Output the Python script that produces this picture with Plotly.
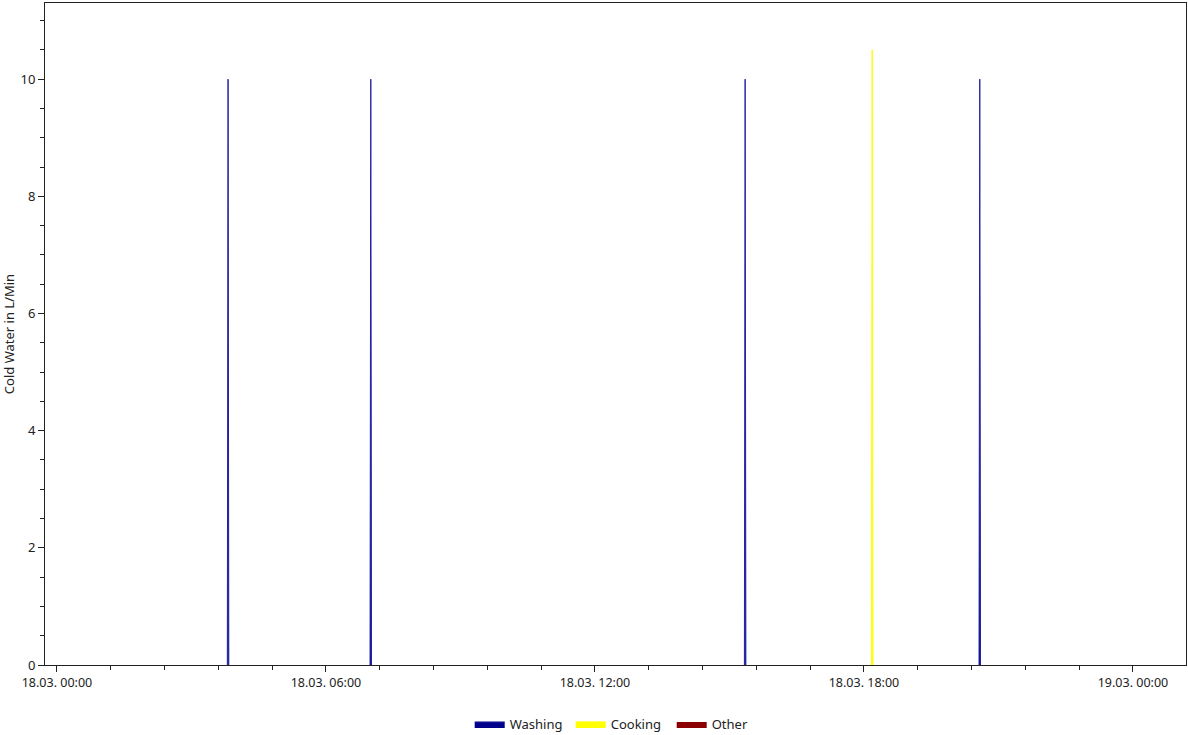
import plotly.graph_objects as go

# Data (times of events and peak flow values, L/Min); None separates events
washing_times = ["2024-03-18 03:48", "2024-03-18 03:49", "2024-03-18 03:50", None,
                 "2024-03-18 06:59", "2024-03-18 07:00", "2024-03-18 07:01", None,
                 "2024-03-18 15:20", "2024-03-18 15:21", "2024-03-18 15:22", None,
                 "2024-03-18 20:34", "2024-03-18 20:35", "2024-03-18 20:36"]
washing_values = [0, 10, 0, None, 0, 10, 0, None, 0, 10, 0, None, 0, 10, 0]

cooking_times = ["2024-03-18 18:10", "2024-03-18 18:11", "2024-03-18 18:12"]
cooking_values = [0, 10.5, 0]

other_times = ["2024-03-18 00:00"]
other_values = [0]

x_range = ["2024-03-17 23:44", "2024-03-19 01:11"]
y_range = [0, 11.3]

font_family = "Noto Sans, Open Sans, DejaVu Sans, sans-serif"

fig = go.Figure()
fig.add_trace(go.Scatter(x=washing_times, y=washing_values, name="Washing",
                         mode="lines", fill="tozeroy", connectgaps=False,
                         line=dict(color="#2323a3", width=1),
                         fillcolor="#00008B"))
fig.add_trace(go.Scatter(x=cooking_times, y=cooking_values, name="Cooking",
                         mode="lines", fill="tozeroy",
                         line=dict(color="#FFFF00", width=1),
                         fillcolor="#FFFF00"))
fig.add_trace(go.Scatter(x=other_times, y=other_values, name="Other",
                         mode="lines", fill="tozeroy",
                         line=dict(color="#8B0000", width=0),
                         fillcolor="#8B0000"))

fig.update_layout(
    width=1188, height=735,
    margin=dict(l=45, r=2, t=3, b=70),
    paper_bgcolor="white", plot_bgcolor="white",
    font=dict(family=font_family, size=12, color="#222222"),
    showlegend=True,
    legend=dict(orientation="h", x=0.505, xanchor="center",
                yref="container", y=0.015, yanchor="middle",
                font=dict(size=13), itemwidth=30, traceorder="normal",
                entrywidth=56, entrywidthmode="pixels"),
    xaxis=dict(
        type="date", range=x_range, automargin=False,
        tick0="2024-03-18 00:00", dtick=6 * 3600 * 1000,
        tickformat="%d.%m. %H:%M",
        ticks="outside", ticklen=6, tickcolor="#222", tickwidth=1,
        showline=True, linecolor="#222", linewidth=1, mirror=True,
        showgrid=False, zeroline=False,
        tickfont=dict(size=12.5),
        minor=dict(ticks="outside", ticklen=4, tickcolor="#222",
                   dtick=72 * 60 * 1000, tick0="2024-03-18 00:00", showgrid=False),
    ),
    yaxis=dict(
        range=y_range, dtick=2, tick0=0, automargin=False,
        title=dict(text="Cold Water in L/Min", font=dict(size=13), standoff=8),
        ticks="outside", ticklen=6, tickcolor="#222", tickwidth=1,
        showline=True, linecolor="#222", linewidth=1, mirror=True,
        showgrid=False, zeroline=False,
        tickfont=dict(size=13),
        minor=dict(ticks="outside", ticklen=4, tickcolor="#222",
                   dtick=0.5, tick0=0, showgrid=False),
    ),
)

fig.write_html("out.html", config={"displayModeBar": False},
               post_script="document.body.style.margin='0';document.body.style.overflow='hidden';")
